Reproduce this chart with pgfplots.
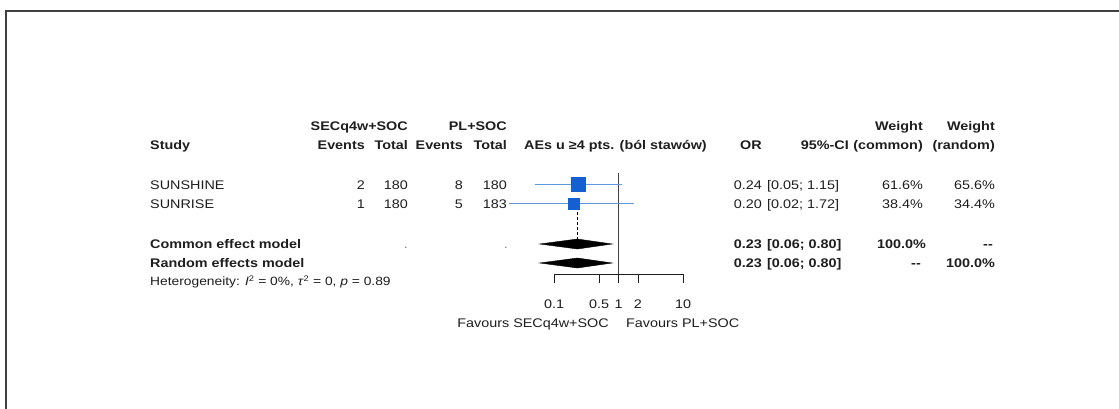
\documentclass[border=0pt]{standalone}
\usepackage{fontspec}
\setmainfont{Liberation Sans}[FakeStretch=1.15]
\usepackage{pgfplots}
\pgfplotsset{compat=1.18}
\definecolor{textc}{RGB}{30,30,30}
\definecolor{sqblue}{RGB}{20,95,210}
\definecolor{ciblue}{RGB}{95,155,220}
\newcommand\fs{\fontsize{12.5}{15}\selectfont}
\newcommand\fsh{\fontsize{12}{14}\selectfont}
\newcommand\tl[3]{\node[anchor=base west] at (#1pt,-#2pt) {#3};}
\newcommand\tr[3]{\node[anchor=base east] at (#1pt,-#2pt) {#3};}
\newcommand\tc[3]{\node[anchor=base] at (#1pt,-#2pt) {#3};}
\begin{document}
\begin{tikzpicture}
\path[use as bounding box] (0pt,0pt) rectangle (1119pt,-409pt);
\fill[white] (0pt,0pt) rectangle (1119pt,-409pt);
\draw[line width=2.2pt, color=black!75] (6pt,-420pt) -- (6pt,-11pt) -- (1130pt,-11pt);
\begin{scope}[every node/.style={font=\fs, text=textc, inner sep=0pt}]
% header row 1
\tr{408}{130.5}{\textbf{SECq4w+SOC}}
\tr{507}{130.5}{\textbf{PL+SOC}}
\tr{923}{130.5}{\textbf{Weight}}
\tr{995}{130.5}{\textbf{Weight}}
% header row 2
\tl{150}{149.5}{\textbf{Study}}
\tr{365}{149.5}{\textbf{Events}}
\tr{408}{149.5}{\textbf{Total}}
\tr{463}{149.5}{\textbf{Events}}
\tr{507}{149.5}{\textbf{Total}}
\tc{615.5}{149.5}{\textbf{AEs u ≥4 pts. (ból stawów)}}
\tr{762}{149.5}{\textbf{OR}}
\tr{849}{149.5}{\textbf{95\%-CI}}
\tr{923}{149.5}{\textbf{(common)}}
\tr{995}{149.5}{\textbf{(random)}}
% study rows
\tl{150}{189}{SUNSHINE}
\tr{365}{189}{2}
\tr{408}{189}{180}
\tr{463}{189}{8}
\tr{507}{189}{180}
\tr{762}{189}{0.24}
\tl{767}{189}{[0.05; 1.15]}
\tr{923}{189}{61.6\%}
\tr{995}{189}{65.6\%}
\tl{150}{208}{SUNRISE}
\tr{365}{208}{1}
\tr{408}{208}{180}
\tr{463}{208}{5}
\tr{507}{208}{183}
\tr{762}{208}{0.20}
\tl{767}{208}{[0.02; 1.72]}
\tr{923}{208}{38.4\%}
\tr{995}{208}{34.4\%}
% pooled rows
\tl{150}{248.5}{\textbf{Common effect model}}
\node[anchor=base east, text=gray] at (408pt,-248.5pt) {.};
\node[anchor=base east, text=gray] at (508pt,-248.5pt) {.};
\tr{762}{248.5}{\textbf{0.23}}
\tl{767}{248.5}{\textbf{[0.06; 0.80]}}
\tr{926}{248.5}{\textbf{100.0\%}}
\tr{993}{248.5}{\textbf{{-}{-}}}
\tl{150}{267.5}{\textbf{Random effects model}}
\tr{762}{267.5}{\textbf{0.23}}
\tl{767}{267.5}{\textbf{[0.06; 0.80]}}
\tr{921}{267.5}{\textbf{{-}{-}}}
\tr{995}{267.5}{\textbf{100.0\%}}
\node[anchor=base west, font=\fsh] at (150pt,-285.5pt) {Heterogeneity: \textit{I}\textsuperscript{2} = 0\%, \textit{τ}\textsuperscript{2} = 0, \textit{p} = 0.89};
% favours labels
\tr{609}{327}{Favours SECq4w+SOC}
\tl{626}{327}{Favours PL+SOC}
\end{scope}
\begin{axis}[
  at={(554pt,-274pt)}, anchor=south west,
  scale only axis, width=129pt, height=101pt,
  xmode=log, xmin=0.1, xmax=10,
  ymin=173, ymax=274, y dir=reverse,
  hide y axis,
  axis x line=bottom,
  axis line style={-, color=textc, line width=0.6pt},
  xtick={0.1,0.5,1,2,10},
  xticklabels={0.1,0.5,1,2,10},
  minor xtick={},
  tick align=outside,
  major tick length=9pt,
  xtick style={color=textc, line width=0.6pt},
  tick label style={font=\fs, text=textc, yshift=-13pt},
  clip=false,
]
\addplot[color=black!75, line width=0.6pt] coordinates {(1,173) (1,274)};
\addplot[color=ciblue, line width=0.9pt] coordinates {(0.05,184.5) (1.15,184.5)};
\addplot[color=ciblue, line width=0.9pt] coordinates {(0.02,203.5) (1.72,203.5)};
\addplot[only marks, mark=square*, mark size=7pt, color=sqblue] coordinates {(0.24,184.5)};
\addplot[only marks, mark=square*, mark size=5.5pt, color=sqblue] coordinates {(0.20,203.5)};
\addplot[densely dashed, color=black, line width=0.6pt] coordinates {(0.23,212) (0.23,239)};
\addplot[fill=black, draw=black] coordinates {(0.06,244) (0.23,239) (0.80,244) (0.23,249)} -- cycle;
\addplot[fill=black, draw=black] coordinates {(0.06,263) (0.23,258) (0.80,263) (0.23,268)} -- cycle;
\end{axis}
\end{tikzpicture}
\end{document}
